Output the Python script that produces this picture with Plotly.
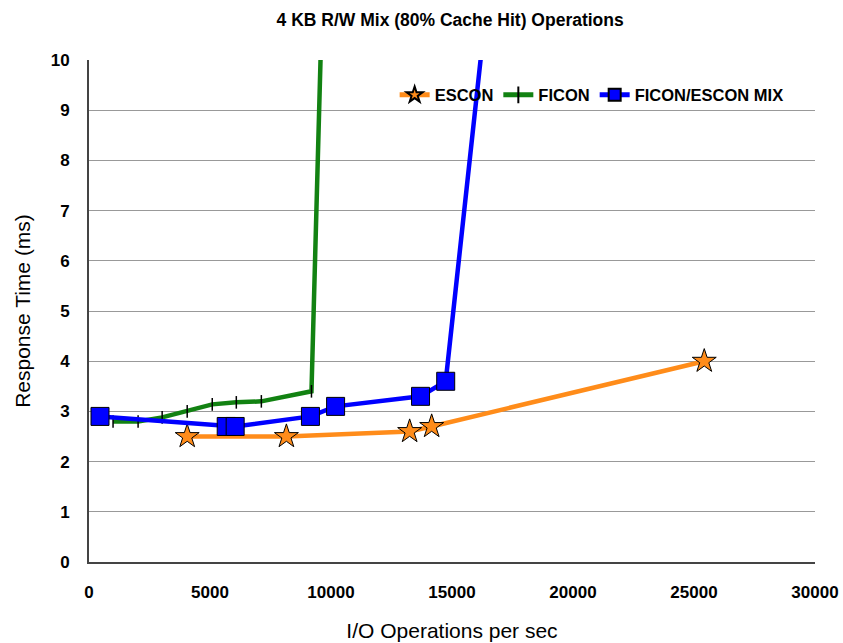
import plotly.graph_objects as go

escon_x = [4058, 8157, 13250, 14160, 25424]
escon_y = [2.5, 2.5, 2.6, 2.7, 4.0]

ficon_x = [994, 2029, 3023, 4058, 5093, 6087, 7122, 9193, 9680]
ficon_y = [2.8, 2.8, 2.88, 3.0, 3.14, 3.18, 3.2, 3.4, 12.0]

mix_x = [455, 5670, 6040, 9150, 10190, 13700, 14740, 16630]
mix_y = [2.9, 2.7, 2.7, 2.9, 3.1, 3.3, 3.6, 12.0]

x_ticks = [0, 5000, 10000, 15000, 20000, 25000, 30000]
y_ticks = list(range(0, 11))

title = "4 KB R/W Mix (80% Cache Hit) Operations"
x_title = "I/O Operations per sec"
y_title = "Response Time (ms)"

FONT = "Liberation Sans, Arial, sans-serif"

fig = go.Figure()
fig.add_trace(go.Scatter(
    x=escon_x, y=escon_y, name="<b>ESCON</b>", mode="lines+markers",
    line=dict(color="#FF8C1A", width=4.5),
    marker=dict(symbol="star", size=18, color="#FF8C1A", line=dict(color="black", width=1)),
))
fig.add_trace(go.Scatter(
    x=ficon_x, y=ficon_y, name="<b>FICON</b>", mode="lines+markers",
    line=dict(color="#128212", width=4.5),
    marker=dict(symbol="line-ns", size=9, color="black", line=dict(color="black", width=1.5)),
))
fig.add_trace(go.Scatter(
    x=mix_x, y=mix_y, name="<b>FICON/ESCON MIX</b>", mode="lines+markers",
    line=dict(color="#0000FF", width=4.5),
    marker=dict(symbol="square", size=18, color="#0000FF", line=dict(color="black", width=1)),
))

fig.update_layout(
    width=843, height=643,
    margin=dict(l=89, r=28, t=60, b=81),
    plot_bgcolor="white", paper_bgcolor="white",
    font=dict(family=FONT, color="black"),
    title=dict(text="<b>" + title + "</b>", x=0.534, xanchor="center", y=0.969, yanchor="middle",
               font=dict(size=17.5)),
    showlegend=True,
    legend=dict(orientation="h", x=0.421, y=0.93, xanchor="left", yanchor="middle",
                font=dict(size=16.5), bgcolor="rgba(0,0,0,0)", itemwidth=30,
                tracegroupgap=0, itemsizing="constant"),
    xaxis=dict(range=[0, 30000], tickvals=x_ticks, ticktext=["<b>%d</b>" % v for v in x_ticks],
               showgrid=False, zeroline=False, showline=True, linecolor="#444", linewidth=2,
               ticks="", tickfont=dict(size=17), ticklabelstandoff=14, automargin=False,
               title=dict(text=x_title, font=dict(size=21), standoff=22)),
    yaxis=dict(range=[0, 10], tickvals=y_ticks, ticktext=["<b>%d</b>" % v for v in y_ticks],
               showgrid=True, gridcolor="#999", gridwidth=1, zeroline=False,
               showline=True, linecolor="#444", linewidth=2, ticks="",
               tickfont=dict(size=17), ticklabelstandoff=14, automargin=False,
               title=dict(text=y_title, font=dict(size=21), standoff=14)),
)
fig.write_html("out.html")
